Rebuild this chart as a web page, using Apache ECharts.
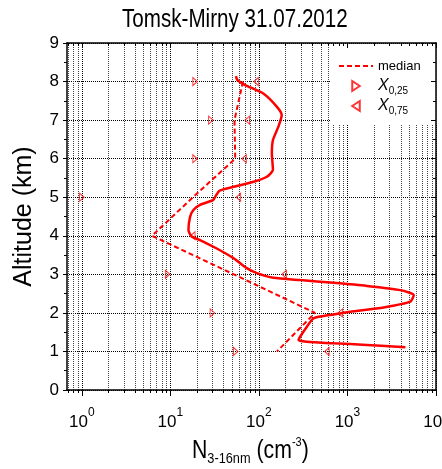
<!DOCTYPE html>
<html><head><meta charset="utf-8">
<script src="https://cdn.jsdelivr.net/npm/echarts@6/dist/echarts.min.js"></script>
<style>html,body{margin:0;padding:0;background:#fff}#c{width:442px;height:469px}</style>
</head><body><div id="c"></div>
<script>
// measured profile (altitude km, concentration cm^-3)
const profileAlt = [8.14,8.04,7.91,7.69,7.35,7.13,6.83,6.48,6.14,5.71,5.53,5.40,5.27,5.17,5.06,4.93,4.80,4.67,4.49,4.15,3.98,3.89,3.67,3.42,3.16,3.03,2.91,2.85,2.78,2.70,2.59,2.46,2.29,2.14,2.03,1.96,1.86,1.64,1.38,1.30,1.25,1.21,1.17,1.11];
const profileN   = [55,57,70,112,159,181,166,144,140,144,123,87,52,36,33,30.5,21.6,18.2,16.7,16,17.4,21.6,33.4,51.5,73,95,146,292,697,1660,3955,5600,5130,2560,1077,697,414,348,292,280,348,697,1660,4510];
// median
const medianAlt = [8,7,6,5,4,3,2,1];
const medianN   = [66,53,54,18,6.2,52,430,160];
// quartiles
const q25Alt = [8,7,6,5,3,2,1];
const q25N   = [19,28.6,19,1.0,9.3,29.8,54.7];
const q75Alt = [8,7,6,5,4,3,2,1];
const q75N   = [93,74,68,58.7,17.9,193,829,586];
// axis ticks
const majorTicksX = [1,10,100,1000,10000];
const minorTicksX = [0.7,0.8,0.9,2,3,4,5,6,7,8,9,20,30,40,50,60,70,80,90,200,300,400,500,600,700,800,900,2000,3000,4000,5000,6000,7000,8000,9000];

const FONT = "'Liberation Sans', Arial, sans-serif";
const RED = '#ff0000';
const zip = (a, b) => a.map((v, i) => [b[i], v]);

const chart = echarts.init(document.getElementById('c'), null, {renderer: 'canvas'});
const X_MIN = 0.68, X_MAX = 10000;
const axisLineStyle = {color: '#000', width: 1.5};
function xAxisBase(extra) {
  return Object.assign({
    type: 'log', logBase: 10, min: X_MIN, max: X_MAX, gridIndex: 0,
    axisLine: {show: false, onZero: false, lineStyle: axisLineStyle},
    axisLabel: {show: false},
    axisTick: {show: false},
    splitLine: {show: false}
  }, extra);
}
const option = {
  animation: false,
  backgroundColor: '#fff',
  graphic: [
    { // chart title (narrow face emulated by horizontal scale)
      type: 'text', x: 122, y: 7, scaleX: 0.793, z: 10,
      style: {text: 'Tomsk-Mirny 31.07.2012', fontSize: 26, fontFamily: FONT, fill: '#000', verticalAlign: 'top', align: 'left'}
    },
    { // x axis title
      type: 'text', x: 192, y: 436, scaleX: 0.85, z: 10,
      style: {
        text: '{n|N}{sub|3-16nm}{n| (cm}{sup|-3}{n|)}', verticalAlign: 'top', align: 'left',
        rich: {
          n: {fontSize: 25, fontFamily: FONT, fill: '#000', lineHeight: 30, verticalAlign: 'middle'},
          sub: {fontSize: 15, fontFamily: FONT, fill: '#000', lineHeight: 12, verticalAlign: 'bottom'},
          sup: {fontSize: 13, fontFamily: FONT, fill: '#000', lineHeight: 16, verticalAlign: 'top'}
        }
      }
    }
  ],
  grid: {left: 67, right: 6, top: 43, bottom: 79, containLabel: false, outerBoundsMode: 'none'},
  legend: {
    orient: 'vertical', left: 330, top: 44, backgroundColor: '#fff',
    padding: [12, 16, 8, 8], itemGap: 0, itemWidth: 34, itemHeight: 10,
    data: [
      {name: 'median', itemStyle: {opacity: 0}},
      {name: 'X25'},
      {name: 'X75'}
    ],
    formatter: function (n) {
      if (n === 'median') return '{m|median}';
      return '{x|X}{s|' + (n === 'X25' ? '0,25' : '0,75') + '}';
    },
    textStyle: {
      color: '#000', fontFamily: FONT, lineHeight: 20,
      rich: {
        m: {fontSize: 13, fontFamily: FONT, color: '#000', lineHeight: 20, verticalAlign: 'middle'},
        x: {fontSize: 16, fontStyle: 'italic', fontFamily: FONT, color: '#000', lineHeight: 20, verticalAlign: 'middle'},
        s: {fontSize: 10, fontFamily: FONT, color: '#000', lineHeight: 4, verticalAlign: 'bottom'}
      }
    }
  },
  xAxis: [
    xAxisBase({ // bottom major
      position: 'bottom',
      axisLine: {show: true, onZero: false, lineStyle: axisLineStyle},
      axisTick: {show: true, customValues: majorTicksX, length: 6, lineStyle: {color: '#000', width: 1}},
      axisLabel: {
        show: true, customValues: majorTicksX, margin: 17,
        alignMinLabel: 'center', alignMaxLabel: 'center',
        formatter: v => '{b|10}{s|' + Math.round(Math.log10(v)) + '}',
        rich: {
          b: {fontSize: 17, fontFamily: FONT, color: '#000', lineHeight: 24, verticalAlign: 'bottom'},
          s: {fontSize: 12, fontFamily: FONT, color: '#000', lineHeight: 12, verticalAlign: 'top'}
        }
      },
      splitLine: {show: true, lineStyle: {color: '#000', type: 'dotted', width: 1}}
    }),
    xAxisBase({ // bottom minor
      position: 'bottom',
      axisTick: {show: true, customValues: minorTicksX, length: 3, lineStyle: {color: '#000', width: 1}},
      splitLine: {show: true, lineStyle: {color: '#444', type: 'dotted', width: 1}}
    }),
    xAxisBase({ // top major
      position: 'top', z: 10,
      axisLine: {show: true, onZero: false, lineStyle: axisLineStyle},
      axisTick: {show: true, inside: true, customValues: majorTicksX, length: 5, lineStyle: {color: '#000', width: 1}}
    }),
    xAxisBase({ // top minor
      position: 'top', z: 10,
      axisTick: {show: true, inside: true, customValues: minorTicksX, length: 3, lineStyle: {color: '#000', width: 1}}
    })
  ],
  yAxis: [
    {
      type: 'value', min: 0, max: 9, interval: 1, position: 'left',
      axisLine: {show: true, onZero: false, lineStyle: axisLineStyle},
      axisTick: {show: true, length: 4, lineStyle: {color: '#000'}},
      minorTick: {show: true, splitNumber: 2, length: 3, lineStyle: {color: '#000'}},
      axisLabel: {fontSize: 17, fontFamily: FONT, color: '#000', margin: 8},
      splitLine: {show: true, lineStyle: {color: '#000', type: 'dotted', width: 1}},
      name: 'Altitude (km)', nameLocation: 'middle', nameGap: 30, nameRotate: 90,
      nameTextStyle: {fontSize: 25, fontFamily: FONT, color: '#000'}
    },
    {
      type: 'value', min: 0, max: 9, interval: 1, position: 'right', z: 10,
      axisLine: {show: true, onZero: false, lineStyle: axisLineStyle},
      axisTick: {show: true, inside: true, length: 5, lineStyle: {color: '#000'}},
      minorTick: {show: true, splitNumber: 2, length: 3, lineStyle: {color: '#000'}},
      axisLabel: {show: false},
      splitLine: {show: false}
    }
  ],
  series: [
    {
      name: 'profile', type: 'line', xAxisIndex: 0, yAxisIndex: 0,
      data: zip(profileAlt, profileN), showSymbol: false, symbol: 'none', smooth: 0.2,
      lineStyle: {color: RED, width: 2.5}, itemStyle: {color: RED}, z: 3
    },
    {
      name: 'median', type: 'line', xAxisIndex: 0, yAxisIndex: 0,
      data: zip(medianAlt, medianN), showSymbol: false, symbol: 'none',
      lineStyle: {color: RED, width: 2, type: [5, 3]}, itemStyle: {color: RED}, z: 3
    },
    {
      name: 'X25', type: 'scatter', xAxisIndex: 0, yAxisIndex: 0,
      data: zip(q25Alt, q25N), symbol: 'path://M0,0L6,4L0,8Z', symbolSize: [6, 8], symbolKeepAspect: true,
      itemStyle: {color: 'rgba(255,255,255,0)', borderColor: RED, borderWidth: 1}, z: 4
    },
    {
      name: 'X75', type: 'scatter', xAxisIndex: 0, yAxisIndex: 0,
      data: zip(q75Alt, q75N), symbol: 'path://M6,0L0,4L6,8Z', symbolSize: [6, 8], symbolKeepAspect: true,
      itemStyle: {color: 'rgba(255,255,255,0)', borderColor: RED, borderWidth: 1}, z: 4
    }
  ]
};
chart.setOption(option);
</script></body></html>
